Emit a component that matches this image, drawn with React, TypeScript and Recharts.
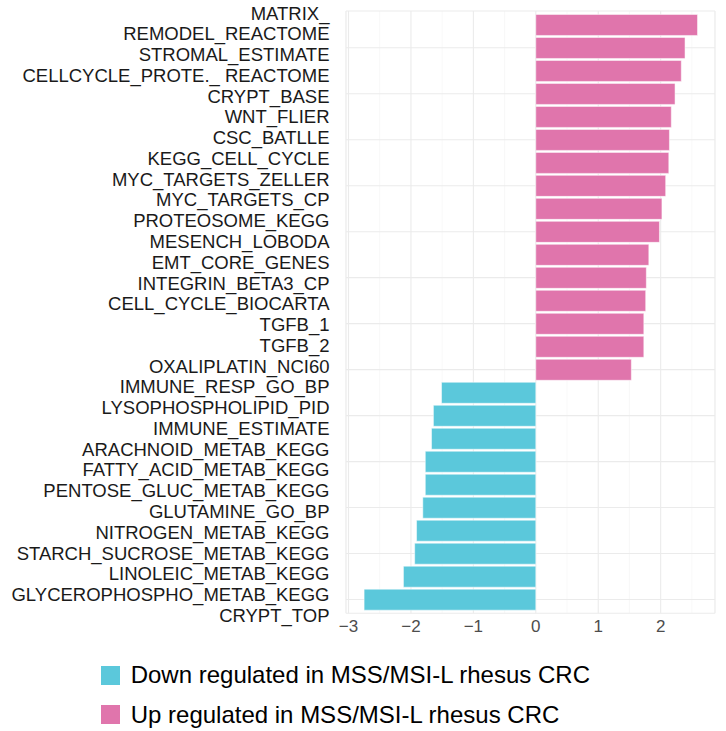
import React from 'react';
import { BarChart, Bar, XAxis, YAxis, CartesianGrid, Cell, Legend } from 'recharts';

// Y-axis text labels (as printed in the reference, top to bottom)
const axisLabels = [
  'MATRIX_',
  'REMODEL_REACTOME',
  'STROMAL_ESTIMATE',
  'CELLCYCLE_PROTE._ REACTOME',
  'CRYPT_BASE',
  'WNT_FLIER',
  'CSC_BATLLE',
  'KEGG_CELL_CYCLE',
  'MYC_TARGETS_ZELLER',
  'MYC_TARGETS_CP',
  'PROTEOSOME_KEGG',
  'MESENCH_LOBODA',
  'EMT_CORE_GENES',
  'INTEGRIN_BETA3_CP',
  'CELL_CYCLE_BIOCARTA',
  'TGFB_1',
  'TGFB_2',
  'OXALIPLATIN_NCI60',
  'IMMUNE_RESP_GO_BP',
  'LYSOPHOSPHOLIPID_PID',
  'IMMUNE_ESTIMATE',
  'ARACHNOID_METAB_KEGG',
  'FATTY_ACID_METAB_KEGG',
  'PENTOSE_GLUC_METAB_KEGG',
  'GLUTAMINE_GO_BP',
  'NITROGEN_METAB_KEGG',
  'STARCH_SUCROSE_METAB_KEGG',
  'LINOLEIC_METAB_KEGG',
  'GLYCEROPHOSPHO_METAB_KEGG',
  'CRYPT_TOP',
];

// Bar values, top to bottom
const upValues = [2.59, 2.39, 2.33, 2.23, 2.17, 2.14, 2.13, 2.08, 2.02, 1.98, 1.81, 1.77, 1.76, 1.73, 1.73, 1.53];
const downValues = [-1.51, -1.64, -1.67, -1.77, -1.77, -1.81, -1.91, -1.94, -2.12, -2.75];

const xTicks = [-3, -2, -1, 0, 1, 2];
const xMinorTicks = [-2.5, -1.5, -0.5, 0.5, 1.5, 2.5];
const xDomain = [-3.04, 2.87];

const legendLabels = ['Down regulated in MSS/MSI-L rhesus CRC', 'Up regulated in MSS/MSI-L rhesus CRC'];

const UP_COLOR = '#E075AC';
const DOWN_COLOR = '#5BC8DB';
const legendColors = [DOWN_COLOR, UP_COLOR];

const FONT = '"Liberation Sans", Arial, Helvetica, sans-serif';

const data = [
  ...upValues.map((v, i) => ({ id: `up${i + 1}`, value: v, dir: 'up' })),
  ...downValues.map((v, i) => ({ id: `down${i + 1}`, value: v, dir: 'down' })),
];

const labelRows = axisLabels.map((label) => ({ label }));

const fmtX = (v: number) => (v < 0 ? `\u2212${Math.abs(v)}` : `${v}`);

const LabelTick = (props: any) => {
  const { x, y, payload } = props;
  return (
    <text
      x={x - 8.5}
      y={y + 2}
      dy="0.355em"
      textAnchor="end"
      fill="#1a1a1a"
      fontSize={18.5}
      fontFamily={FONT}
    >
      {payload.value}
    </text>
  );
};

const LegendContent = () => (
  <div style={{ fontFamily: FONT, fontSize: 24, color: '#000' }}>
    {legendLabels.map((label, i) => (
      <div key={label} style={{ display: 'flex', alignItems: 'center', height: 39.5 }}>
        <span style={{ display: 'inline-block', width: 19, height: 19, background: legendColors[i], marginRight: 11, flexShrink: 0 }} />
        <span style={{ whiteSpace: 'nowrap' }}>{label}</span>
      </div>
    ))}
  </div>
);

// label rows: 30 equally spaced labels spanning the panel height (11 .. 613.3)
const LABEL_STEP = (613.3 - 11) / 29;
const LABEL_TOP = 11 - LABEL_STEP / 2;
const LABEL_H = LABEL_STEP * 30;

export default function App() {
  return (
    <div style={{ fontFamily: FONT, width: 726, height: 731, position: 'relative' }}>
      <style>{`html,body{margin:0;padding:0;overflow:hidden;background:#fff}`}</style>
      <div style={{ position: 'absolute', left: 0, top: 0 }}>
        <BarChart
          width={726}
          height={731}
          data={data}
          layout="vertical"
          margin={{ top: 11, right: 11, bottom: 87.7, left: 346 }}
          barCategoryGap="5%"
        >
          <CartesianGrid xAxisId="minor" yAxisId="bars" horizontal={false} stroke="#f3f3f3" strokeWidth={0.6} />
          <CartesianGrid xAxisId="main" yAxisId="bars" stroke="#ebebeb" strokeWidth={1.1} />
          <XAxis
            xAxisId="main"
            type="number"
            domain={xDomain}
            ticks={xTicks}
            allowDataOverflow
            tickFormatter={fmtX}
            axisLine={false}
            tickLine={false}
            tickSize={5}
            height={30}
            tick={{ fill: '#4d4d4d', fontSize: 17, fontFamily: FONT }}
          />
          <XAxis xAxisId="minor" type="number" domain={xDomain} ticks={xMinorTicks} allowDataOverflow hide height={0} />
          <YAxis yAxisId="bars" type="category" dataKey="id" hide width={0} padding={{ top: 2.3, bottom: 2.3 }} />
          <Bar xAxisId="main" yAxisId="bars" dataKey="value" isAnimationActive={false} stroke="#ffffff" strokeWidth={0.5}>
            {data.map((d) => (
              <Cell key={d.id} fill={d.dir === 'up' ? UP_COLOR : DOWN_COLOR} />
            ))}
          </Bar>
          <Legend
            layout="horizontal"
            verticalAlign="middle"
            align="center"
            content={<LegendContent />}
            wrapperStyle={{ top: 655.5, left: 100.7, width: 600, position: 'absolute' }}
          />
        </BarChart>
      </div>
      <div style={{ position: 'absolute', left: 0, top: 0, pointerEvents: 'none' }}>
        <BarChart
          width={346}
          height={731}
          data={labelRows}
          layout="vertical"
          margin={{ top: LABEL_TOP, right: 0, bottom: 731 - LABEL_TOP - LABEL_H, left: 0 }}
        >
          <XAxis type="number" hide height={0} domain={[0, 1]} />
          <YAxis
            type="category"
            dataKey="label"
            width={346}
            interval={0}
            axisLine={false}
            tickLine={false}
            tick={<LabelTick />}
          />
        </BarChart>
      </div>
    </div>
  );
}
